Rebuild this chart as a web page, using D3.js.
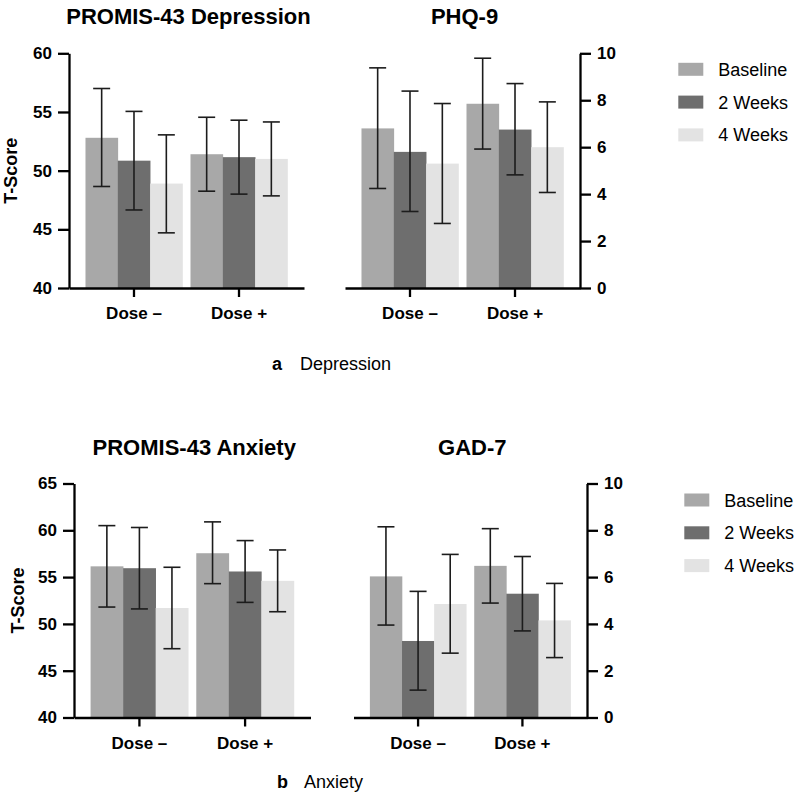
<!DOCTYPE html>
<html><head><meta charset="utf-8">
<script src="https://cdn.jsdelivr.net/npm/d3@7"></script>
<style>
html,body{margin:0;padding:0;background:#fff;}
svg{display:block;font-family:"Liberation Sans",Arial,sans-serif;}
</style></head>
<body><svg id="c" width="797" height="794"></svg>
<script>
const categories = ["Dose –", "Dose +"];
const series = ["Baseline", "2 Weeks", "4 Weeks"];
const seriesColors = ["#a8a8a8", "#6e6e6e", "#e3e3e3"];

// rows = categories, cols = series
const promisDepMean  = [[52.8, 50.85, 48.9], [51.4, 51.15, 51.0]];
const promisDepUpper = [[57.0, 55.05, 53.05], [54.55, 54.3, 54.15]];
const promisDepLower = [[48.65, 46.65, 44.7], [48.25, 48.0, 47.85]];

const phqMean  = [[6.8, 5.8, 5.3], [7.85, 6.75, 6.0]];
const phqUpper = [[9.38, 8.39, 7.86], [9.79, 8.71, 7.93]];
const phqLower = [[4.24, 3.26, 2.75], [5.92, 4.82, 4.07]];

const promisAnxMean  = [[56.15, 55.95, 51.7], [57.55, 55.6, 54.6]];
const promisAnxUpper = [[60.5, 60.3, 56.05], [60.9, 58.9, 57.9]];
const promisAnxLower = [[51.8, 51.6, 47.35], [54.3, 52.3, 51.3]];

const gadMean  = [[6.03, 3.27, 4.85], [6.48, 5.29, 4.15]];
const gadUpper = [[8.15, 5.39, 6.97], [8.07, 6.88, 5.73]];
const gadLower = [[3.95, 1.17, 2.75], [4.89, 3.70, 2.56]];

const promisDepTicks = [40, 45, 50, 55, 60];
const promisAnxTicks = [40, 45, 50, 55, 60, 65];
const scoreTicks = [0, 2, 4, 6, 8, 10];

const svg = d3.select("#c");
const FONT_BOLD = 700;

function panel(opt) {
  const g = svg.append("g");
  const x = d3.scaleBand().domain(categories).range([opt.x0, opt.x1])
    .paddingInner(8 / 105).paddingOuter(0.157);
  const xs = d3.scaleBand().domain(series).range([0, x.bandwidth()]).padding(0);
  const y = d3.scaleLinear().domain(opt.domain).range([opt.y1, opt.y0]);

  // bars
  categories.forEach((c, ci) => {
    series.forEach((s, si) => {
      g.append("rect")
        .attr("x", x(c) + xs(s))
        .attr("y", y(opt.mean[ci][si]))
        .attr("width", xs.bandwidth() + 0.3)
        .attr("height", y(opt.domain[0]) - y(opt.mean[ci][si]))
        .attr("fill", seriesColors[si]);
    });
  });
  // error bars
  categories.forEach((c, ci) => {
    series.forEach((s, si) => {
      const cx = x(c) + xs(s) + xs.bandwidth() / 2;
      const eg = g.append("g").attr("stroke", "#1c1c1c").attr("stroke-width", 1.6);
      eg.append("line").attr("x1", cx).attr("x2", cx)
        .attr("y1", y(opt.upper[ci][si])).attr("y2", y(opt.lower[ci][si]));
      [opt.upper[ci][si], opt.lower[ci][si]].forEach(v => {
        eg.append("line").attr("x1", cx - 8.5).attr("x2", cx + 8.5)
          .attr("y1", y(v)).attr("y2", y(v));
      });
    });
  });

  // x axis
  const xa = g.append("g").attr("transform", `translate(0,${opt.y1})`)
    .call(d3.axisBottom(x).tickSize(9).tickSizeOuter(0).tickPadding(10));
  // y axis
  const ya = g.append("g")
    .attr("transform", `translate(${opt.right ? opt.x1 : opt.x0},0)`)
    .call((opt.right ? d3.axisRight(y) : d3.axisLeft(y))
      .tickValues(opt.ticks).tickFormat(d3.format("d")).tickSize(11).tickSizeOuter(0).tickPadding(6));
  [xa, ya].forEach(a => {
    a.selectAll("path").attr("stroke", "#000").attr("stroke-width", 2.3);
    a.selectAll("line").attr("stroke", "#000").attr("stroke-width", 2.3);
    a.selectAll("text").attr("fill", "#000").attr("font-size", 17)
      .attr("font-weight", FONT_BOLD).attr("font-family", "Liberation Sans, Arial, sans-serif");
  });

  // title
  svg.append("text").attr("x", (opt.x0 + opt.x1) / 2 + 2).attr("y", opt.titleY)
    .attr("text-anchor", "middle").attr("font-size", 22).attr("font-weight", FONT_BOLD)
    .text(opt.title);

  if (opt.ylabel) {
    svg.append("text")
      .attr("transform", `translate(${opt.ylabelX},${(opt.y0 + opt.y1) / 2}) rotate(-90)`)
      .attr("text-anchor", "middle").attr("font-size", 18).attr("font-weight", FONT_BOLD)
      .text(opt.ylabel);
  }
}

function legend(lx, ly, gap) {
  series.forEach((s, i) => {
    svg.append("rect").attr("x", lx).attr("y", ly + i * gap - 6.5)
      .attr("width", 25).attr("height", 13).attr("fill", seriesColors[i]);
    svg.append("text").attr("x", lx + 40).attr("y", ly + i * gap + 6.5)
      .attr("font-size", 18).attr("fill", "#000").text(s);
  });
}

panel({x0: 69, x1: 304, y0: 53.3, y1: 288, domain: [40, 60], ticks: promisDepTicks,
  mean: promisDepMean, upper: promisDepUpper, lower: promisDepLower,
  title: "PROMIS-43 Depression", titleY: 23.5, ylabel: "T-Score", ylabelX: 16.5});
panel({x0: 345, x1: 580, y0: 53.3, y1: 288, domain: [0, 10], ticks: scoreTicks, right: true,
  mean: phqMean, upper: phqUpper, lower: phqLower, title: "PHQ-9", titleY: 23.5});
panel({x0: 74, x1: 310.5, y0: 483.5, y1: 717.5, domain: [40, 65], ticks: promisAnxTicks,
  mean: promisAnxMean, upper: promisAnxUpper, lower: promisAnxLower,
  title: "PROMIS-43 Anxiety", titleY: 455, ylabel: "T-Score", ylabelX: 24});
panel({x0: 353.5, x1: 587, y0: 483.5, y1: 717.5, domain: [0, 10], ticks: scoreTicks, right: true,
  mean: gadMean, upper: gadUpper, lower: gadLower, title: "GAD-7", titleY: 455});

legend(678.3, 69.3, 32.8);
legend(684.3, 500, 32.8);

// captions
svg.append("text").attr("x", 272).attr("y", 370).attr("font-size", 18).attr("font-weight", FONT_BOLD).text("a");
svg.append("text").attr("x", 300).attr("y", 370).attr("font-size", 18).text("Depression");
svg.append("text").attr("x", 277).attr("y", 788).attr("font-size", 18).attr("font-weight", FONT_BOLD).text("b");
svg.append("text").attr("x", 304).attr("y", 788).attr("font-size", 18).text("Anxiety");
</script></body></html>
